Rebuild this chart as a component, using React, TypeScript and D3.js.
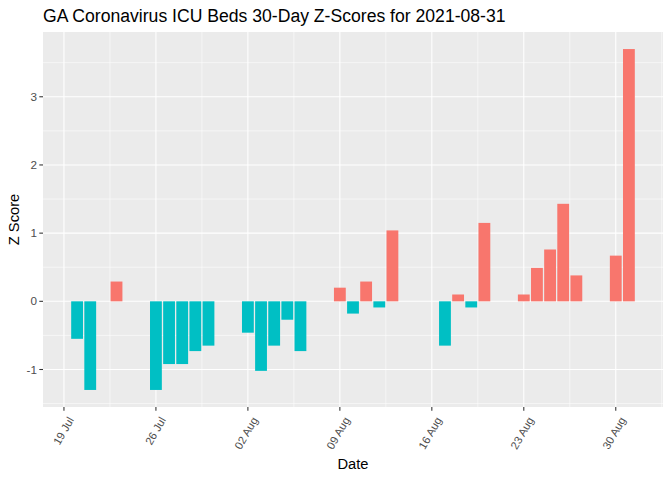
import React, { useEffect } from "react";
import * as d3 from "d3";

const dates = [
  "2021-07-20", "2021-07-21", "2021-07-23", "2021-07-26", "2021-07-27",
  "2021-07-28", "2021-07-29", "2021-07-30", "2021-08-02", "2021-08-03",
  "2021-08-04", "2021-08-05", "2021-08-06", "2021-08-09", "2021-08-10",
  "2021-08-11", "2021-08-12", "2021-08-13", "2021-08-17", "2021-08-18",
  "2021-08-19", "2021-08-20", "2021-08-23", "2021-08-24", "2021-08-25",
  "2021-08-26", "2021-08-27", "2021-08-30", "2021-08-31",
];
const zScores = [
  -0.55, -1.3, 0.29, -1.3, -0.92,
  -0.92, -0.73, -0.65, -0.46, -1.02,
  -0.65, -0.27, -0.73, 0.2, -0.18,
  0.29, -0.09, 1.04, -0.65, 0.1,
  -0.09, 1.15, 0.1, 0.49, 0.76,
  1.43, 0.38, 0.67, 3.7,
];
const xTicks = ["2021-07-19", "2021-07-26", "2021-08-02", "2021-08-09", "2021-08-16", "2021-08-23", "2021-08-30"];
const yTicks = [-1, 0, 1, 2, 3];

const W = 672;
const H = 480;
const margin = { top: 32, right: 9, bottom: 73, left: 43 };
const DAY = 86400000;
const font = "'Liberation Sans', Arial, sans-serif";

const parse = (s: string) => new Date(s + "T00:00:00Z");

export default function App() {
  useEffect(() => {
    document.body.style.margin = "0";
  }, []);

  const pw = W - margin.left - margin.right;
  const ph = H - margin.top - margin.bottom;
  const t0 = parse(dates[0]).getTime() - 0.45 * DAY;
  const t1 = parse(dates[dates.length - 1]).getTime() + 0.45 * DAY;
  const padX = (t1 - t0) * 0.05;
  const x = d3.scaleUtc().domain([new Date(t0 - padX), new Date(t1 + padX)]).range([0, pw]);
  const yMin = d3.min(zScores)!;
  const yMax = d3.max(zScores)!;
  const padY = (yMax - yMin) * 0.05;
  const y = d3.scaleLinear().domain([yMin - padY, yMax + padY]).range([ph, 0]);
  const fmt = d3.utcFormat("%d %b");
  const barW = x(new Date(0.9 * DAY)) - x(new Date(0));

  const xMajor = xTicks.map(parse);
  const xMinor: Date[] = [];
  for (let i = 0; i <= xMajor.length; i++) {
    const base = i === 0 ? xMajor[0].getTime() - 7 * DAY : xMajor[i - 1].getTime();
    const m = new Date(base + 3.5 * DAY);
    if (x(m) >= 0 && x(m) <= pw) xMinor.push(m);
  }
  const yMinor = [-1.5, -0.5, 0.5, 1.5, 2.5, 3.5].filter((v) => y(v) >= 0 && y(v) <= ph);

  return (
    <svg width={W} height={H} style={{ display: "block", background: "#fff" }}>
      <text x={margin.left} y={22} fontFamily={font} fontSize={17.6} fill="#000">
        GA Coronavirus ICU Beds 30-Day Z-Scores for 2021-08-31
      </text>
      <g transform={`translate(${margin.left},${margin.top})`}>
        <rect width={pw} height={ph} fill="#EBEBEB" />
        {yMinor.map((v) => (
          <line key={"ym" + v} x1={0} x2={pw} y1={y(v)} y2={y(v)} stroke="#fff" strokeWidth={0.55} />
        ))}
        {xMinor.map((d) => (
          <line key={"xm" + d.getTime()} x1={x(d)} x2={x(d)} y1={0} y2={ph} stroke="#fff" strokeWidth={0.55} />
        ))}
        {yTicks.map((v) => (
          <line key={"y" + v} x1={0} x2={pw} y1={y(v)} y2={y(v)} stroke="#fff" strokeWidth={1.07} />
        ))}
        {xMajor.map((d) => (
          <line key={"x" + d.getTime()} x1={x(d)} x2={x(d)} y1={0} y2={ph} stroke="#fff" strokeWidth={1.07} />
        ))}
        {dates.map((s, i) => {
          const v = zScores[i];
          const cx = x(parse(s));
          return (
            <rect
              key={s}
              x={cx - barW / 2}
              width={barW}
              y={y(Math.max(0, v))}
              height={Math.abs(y(v) - y(0))}
              fill={v > 0 ? "#F8766D" : "#00BFC4"}
            />
          );
        })}
        {yTicks.map((v) => (
          <g key={"yt" + v} transform={`translate(0,${y(v)})`}>
            <line x1={-3.7} x2={0} stroke="#333" strokeWidth={1.07} />
            <text x={-6} dy="0.35em" textAnchor="end" fontFamily={font} fontSize={11.7} fill="#4D4D4D">
              {v}
            </text>
          </g>
        ))}
        {xMajor.map((d) => (
          <g key={"xt" + d.getTime()} transform={`translate(${x(d)},${ph})`}>
            <line y1={0} y2={3.7} stroke="#333" strokeWidth={1.07} />
            <text
              transform="translate(7,11) rotate(-60)"
              textAnchor="end"
              dy="0.35em"
              fontFamily={font}
              fontSize={11.2}
              fill="#4D4D4D"
            >
              {fmt(d)}
            </text>
          </g>
        ))}
      </g>
      <text x={margin.left + pw / 2} y={469} textAnchor="middle" fontFamily={font} fontSize={14.7} fill="#000">
        Date
      </text>
      <text
        transform={`translate(19,${margin.top + ph / 2}) rotate(-90)`}
        textAnchor="middle"
        fontFamily={font}
        fontSize={14.7}
        fill="#000"
      >
        Z Score
      </text>
    </svg>
  );
}
